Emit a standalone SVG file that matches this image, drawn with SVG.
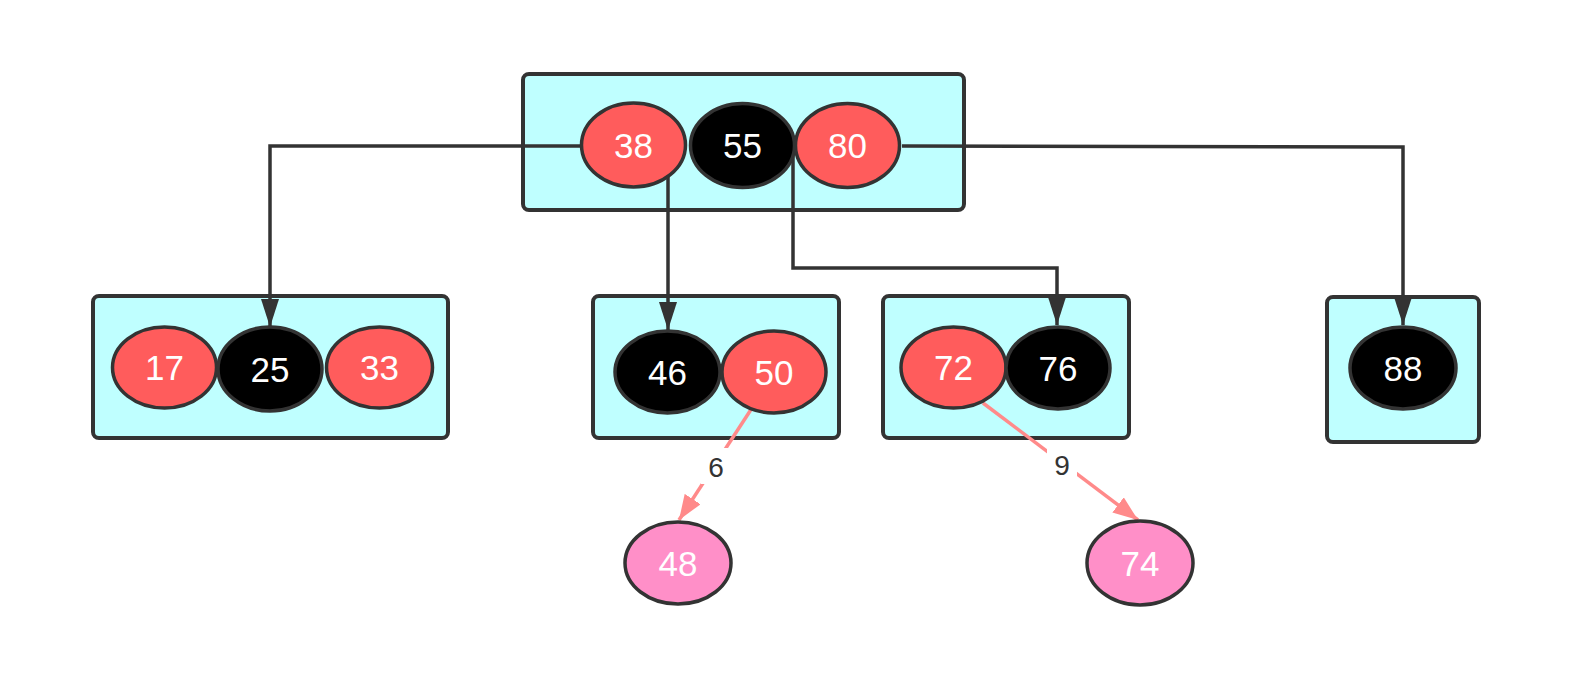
<svg xmlns="http://www.w3.org/2000/svg" width="1578" height="678" viewBox="0 0 1578 678">
<style>
.box{fill:#bfffff;stroke:#333;stroke-width:4}
.red{fill:#ff5c5c;stroke:#333;stroke-width:3.5}
.blk{fill:#000;stroke:#333;stroke-width:3.5}
.pink{fill:#ff8fc8;stroke:#333;stroke-width:3.5}
.t{font-family:"Liberation Sans",Arial,sans-serif;font-size:35px;fill:#fff;text-anchor:middle;dominant-baseline:central}
.lbl{font-family:"Liberation Sans",Arial,sans-serif;font-size:28px;fill:#333;text-anchor:middle;dominant-baseline:central}
.c{fill:none;stroke:#333;stroke-width:3.5}
.p{fill:none;stroke:#ff8a8a;stroke-width:3.5}
</style>
<defs>
<marker id="ah" markerUnits="userSpaceOnUse" markerWidth="28" markerHeight="18" refX="28" refY="9" orient="auto"><path d="M0,0 L28,9 L0,18 z" fill="#333"/></marker>
<marker id="ap" markerUnits="userSpaceOnUse" markerWidth="25" markerHeight="19" refX="25" refY="9.5" orient="auto"><path d="M0,0 L25,9.5 L0,19 z" fill="#ff8a8a"/></marker>
</defs>
<g id="n-root">
<rect class="box" x="523" y="74" width="441" height="136" rx="6"/>
</g>
<g id="n-left">
<rect class="box" x="93" y="296" width="355" height="142" rx="6"/>
</g>
<g id="n-mid1">
<rect class="box" x="593" y="296" width="246" height="142" rx="6"/>
</g>
<g id="n-mid2">
<rect class="box" x="883" y="296" width="246" height="142" rx="6"/>
</g>
<g id="n-right">
<rect class="box" x="1327" y="297" width="152" height="145" rx="6"/>
</g>
<g id="connectors">
<polyline class="c" points="581,146 270,146 270,327" marker-end="url(#ah)"/>
<polyline class="c" points="668,177 668,330" marker-end="url(#ah)"/>
<polyline class="c" points="793,146 793,268 1057,268 1057,325" marker-end="url(#ah)"/>
<polyline class="c" points="902,146 1403,147 1403,325" marker-end="url(#ah)"/>
<line class="p" x1="752" y1="408" x2="679" y2="520" marker-end="url(#ap)"/>
<line class="p" x1="983" y1="403" x2="1138" y2="520" marker-end="url(#ap)"/>
<rect x="701" y="448" width="29" height="36" fill="#fff"/>
<text class="lbl" x="716" y="467">6</text>
<rect x="1047" y="447" width="30" height="36" fill="#fff"/>
<text class="lbl" x="1062" y="465">9</text>
</g>
<g id="k38"><ellipse class="red" cx="633.5" cy="145" rx="52" ry="42"/><text class="t" x="633.5" y="145">38</text></g>
<g id="k55"><ellipse class="blk" cx="742.5" cy="145.5" rx="52" ry="42"/><text class="t" x="742.5" y="145.5">55</text></g>
<g id="k80"><ellipse class="red" cx="847.5" cy="145.5" rx="52" ry="42"/><text class="t" x="847.5" y="145.5">80</text></g>
<g id="k17"><ellipse class="red" cx="164.5" cy="367.5" rx="52" ry="40.5"/><text class="t" x="164.5" y="367.5">17</text></g>
<g id="k25"><ellipse class="blk" cx="270" cy="369" rx="52" ry="42"/><text class="t" x="270" y="369">25</text></g>
<g id="k33"><ellipse class="red" cx="379.5" cy="367.5" rx="53" ry="40.5"/><text class="t" x="379.5" y="367.5">33</text></g>
<g id="k46"><ellipse class="blk" cx="667.5" cy="372" rx="52.5" ry="41"/><text class="t" x="667.5" y="372">46</text></g>
<g id="k50"><ellipse class="red" cx="774" cy="372" rx="52" ry="41"/><text class="t" x="774" y="372">50</text></g>
<g id="k72"><ellipse class="red" cx="953.5" cy="367.5" rx="52.5" ry="40.5"/><text class="t" x="953.5" y="367.5">72</text></g>
<g id="k76"><ellipse class="blk" cx="1058" cy="368" rx="52" ry="41"/><text class="t" x="1058" y="368">76</text></g>
<g id="k88"><ellipse class="blk" cx="1403" cy="368" rx="53" ry="41"/><text class="t" x="1403" y="368">88</text></g>
<g id="k48"><ellipse class="pink" cx="678" cy="563" rx="53" ry="41"/><text class="t" x="678" y="563">48</text></g>
<g id="k74"><ellipse class="pink" cx="1140" cy="563" rx="53" ry="42"/><text class="t" x="1140" y="563">74</text></g>
</svg>
